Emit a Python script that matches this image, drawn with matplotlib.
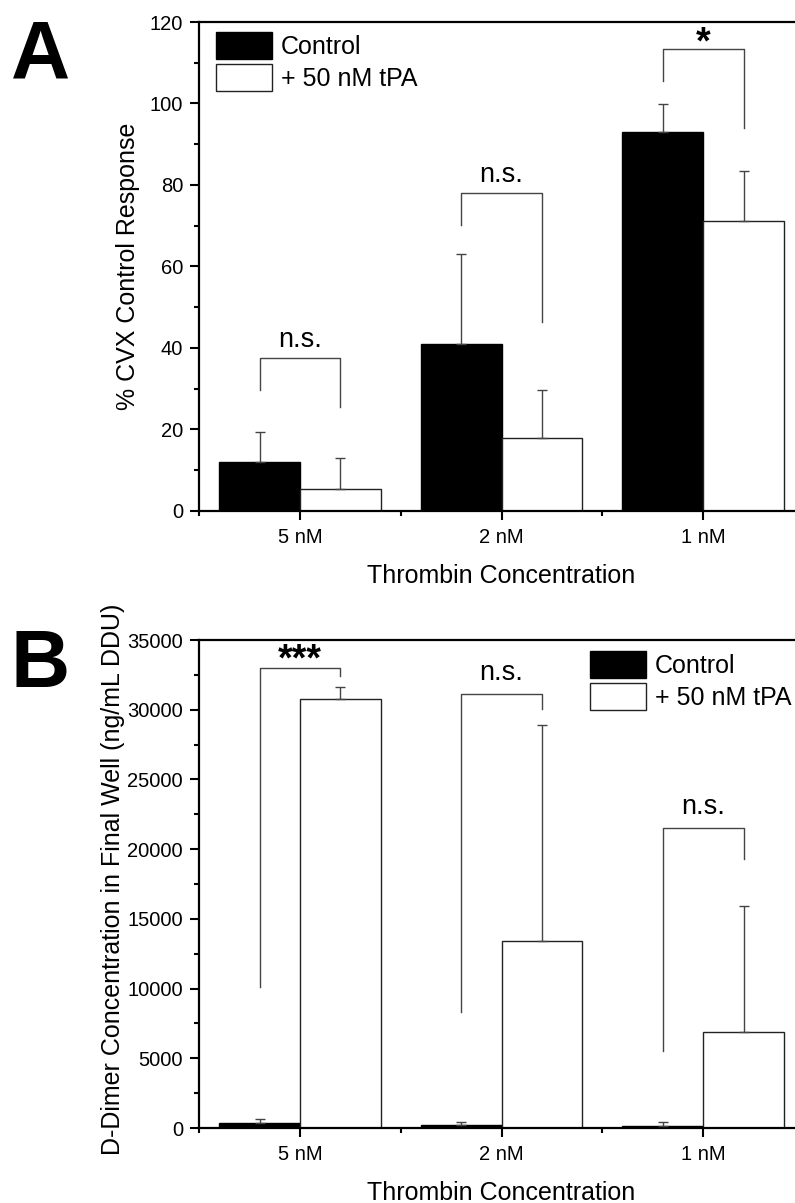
import numpy as np
import matplotlib
matplotlib.use("Agg")
import matplotlib.pyplot as plt
from matplotlib.ticker import MultipleLocator, FixedLocator

plt.rcParams["font.family"] = ["Liberation Sans", "DejaVu Sans"]

categories = ["5 nM", "2 nM", "1 nM"]
series_labels = ["Control", "+ 50 nM tPA"]

# Panel A: clot response as % of the CVX control
cvx_control = [12.0, 41.0, 93.0]
cvx_control_err = [7.4, 22.0, 6.9]
cvx_tpa = [5.4, 17.9, 71.2]
cvx_tpa_err = [7.6, 11.8, 12.2]
cvx_sig = ["n.s.", "n.s.", "*"]
cvx_bracket_top = [37.5, 78.0, 113.4]
cvx_bracket_left = [29.7, 70.2, 105.5]
cvx_bracket_right = [25.5, 46.4, 94.0]

# Panel B: D-dimer in the final well (ng/mL DDU)
dd_control = [330, 240, 170]
dd_control_err = [310, 170, 230]
dd_tpa = [30800, 13400, 6900]
dd_tpa_err = [850, 15500, 9050]
dd_sig = ["***", "n.s.", "n.s."]
dd_bracket_top = [33000, 31150, 21550]
dd_bracket_left = [10100, 8300, 5550]
dd_bracket_right = [32400, 30050, 19300]

W, H = 795, 1203
fig = plt.figure(figsize=(W / 100, H / 100), dpi=100)

LINE = "#444444"


def px_axes(left, top, right, bottom):
    return fig.add_axes([left / W, 1 - bottom / H, (right - left) / W, (bottom - top) / H])


def draw_panel(ax, ctrl, ctrl_err, tpa, tpa_err, sig, b_top, b_left, b_right,
               ymax, major, minor, ylabel, text_offset, star_offset):
    x = np.arange(1, len(categories) + 1)
    w = 0.4
    ax.bar(x - w / 2, ctrl, w, color="black", edgecolor="black", linewidth=1.0,
           label=series_labels[0], zorder=2)
    ax.bar(x + w / 2, tpa, w, color="white", edgecolor="#222222", linewidth=1.0,
           label=series_labels[1], zorder=2)
    zeros = np.zeros(len(categories))
    ax.errorbar(x - w / 2, ctrl, yerr=[zeros, ctrl_err], fmt="none", ecolor=LINE,
                elinewidth=1.0, capsize=3.3, capthick=1.0, zorder=3)
    ax.errorbar(x + w / 2, tpa, yerr=[zeros, tpa_err], fmt="none", ecolor=LINE,
                elinewidth=1.0, capsize=3.3, capthick=1.0, zorder=3)

    for xi, s, top, yl, yr in zip(x, sig, b_top, b_left, b_right):
        xl, xr = xi - w / 2, xi + w / 2
        ax.plot([xl, xl, xr, xr], [yl, top, top, yr], color=LINE, lw=1.0, zorder=3)
        if "*" in s:
            ax.annotate(s, xy=(xi, top), xytext=(0, star_offset), textcoords="offset points",
                        ha="center", va="baseline", fontsize=27, fontweight="bold")
        else:
            ax.annotate(s, xy=(xi, top), xytext=(0, text_offset), textcoords="offset points",
                        ha="center", va="baseline", fontsize=19.5)

    ax.set_xlim(0.5, 3.5)
    ax.set_ylim(0, ymax)
    ax.set_xticks(x)
    ax.set_xticklabels(categories)
    ax.xaxis.set_minor_locator(FixedLocator([0.5, 1.5, 2.5, 3.5]))
    ax.yaxis.set_major_locator(MultipleLocator(major))
    ax.yaxis.set_minor_locator(MultipleLocator(minor))
    ax.tick_params(axis="both", which="major", direction="out", length=6.5, width=1.5,
                   labelsize=14.5, color="black")
    ax.tick_params(axis="both", which="minor", direction="out", length=3.6, width=1.5)
    ax.tick_params(axis="y", which="major", pad=5)
    ax.tick_params(axis="x", which="major", pad=6)
    for side in ["left", "bottom", "top", "right"]:
        ax.spines[side].set_linewidth(1.6)
    ax.set_xlabel("Thrombin Concentration", fontsize=18, labelpad=12)
    ax.set_ylabel(ylabel, fontsize=18, va="center")


def add_legend(ax, left, top):
    ax.legend(loc="upper left", bbox_to_anchor=(left / W, 1 - top / H),
              bbox_transform=fig.transFigure, frameon=False, fontsize=18,
              handlelength=2.25, handleheight=1.3, handletextpad=0.35,
              labelspacing=0.18, borderpad=0, borderaxespad=0)


ax_a = px_axes(199, 22, 804, 511)
draw_panel(ax_a, cvx_control, cvx_control_err, cvx_tpa, cvx_tpa_err, cvx_sig,
           cvx_bracket_top, cvx_bracket_left, cvx_bracket_right,
           120, 20, 10, "% CVX Control Response", 8, -3)
ax_a.yaxis.set_label_coords((128 - 199) / 605, 0.5)
add_legend(ax_a, 216, 32)

ax_b = px_axes(199, 640, 804, 1128)
draw_panel(ax_b, dd_control, dd_control_err, dd_tpa, dd_tpa_err, dd_sig,
           dd_bracket_top, dd_bracket_left, dd_bracket_right,
           35000, 5000, 2500, "D-Dimer Concentration in Final Well (ng/mL DDU)", 10, -2)
ax_b.yaxis.set_label_coords((113 - 199) / 605, 0.51)
add_legend(ax_b, 590, 651)

fig.text(11 / W, 1 - 77 / H, "A", fontsize=59, fontweight="bold", ha="left", va="baseline")
fig.text(10 / W, 1 - 687 / H, "B", fontsize=59, fontweight="bold", ha="left", va="baseline")

fig.savefig("out.png", dpi=100)
